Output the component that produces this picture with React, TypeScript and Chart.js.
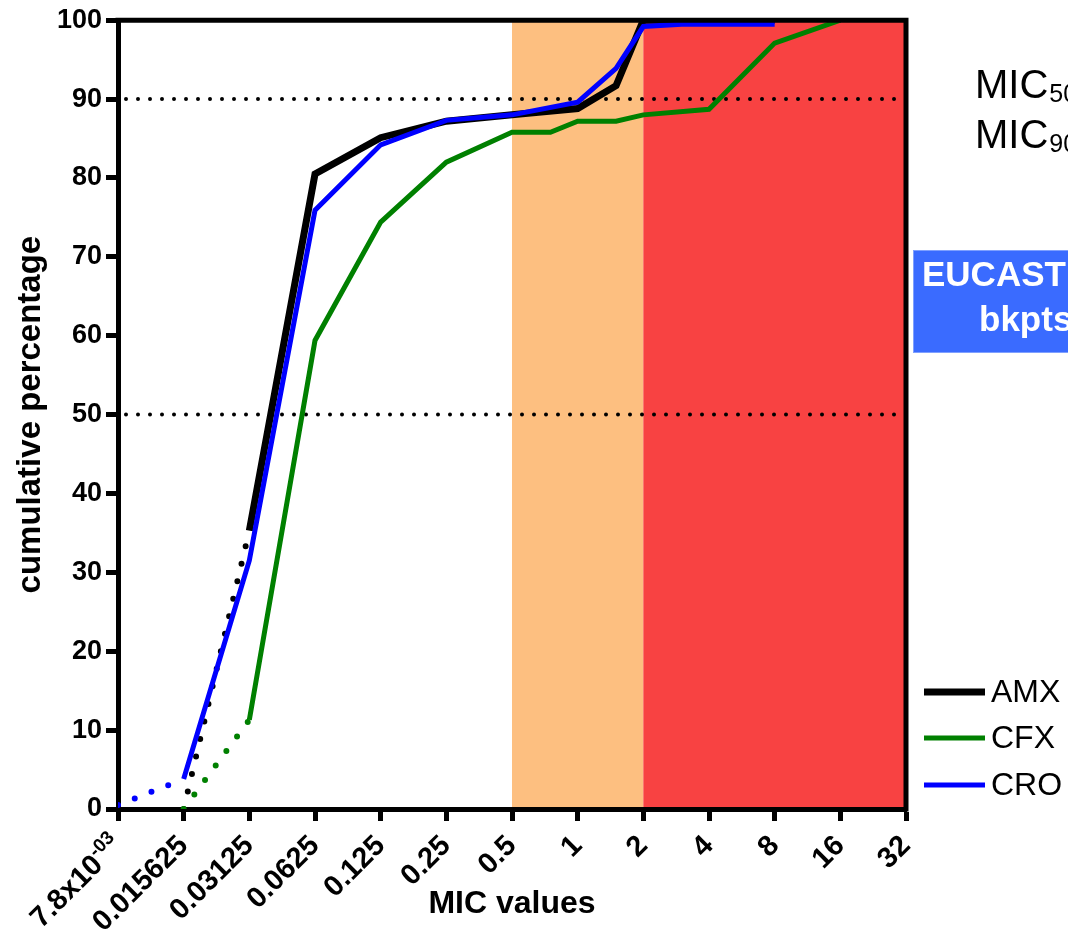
import React, { useEffect, useRef } from 'react';
import { Chart, registerables } from 'chart.js';

Chart.register(...registerables);

const FONT = '"Liberation Sans", Arial, Helvetica, sans-serif';

// X axis: MIC values (log2 spaced)
const xTickValues = [0.0078125, 0.015625, 0.03125, 0.0625, 0.125, 0.25, 0.5, 1, 2, 4, 8, 16, 32];
const xTickLabels = ['7.8x10', '0.015625', '0.03125', '0.0625', '0.125', '0.25', '0.5', '1', '2', '4', '8', '16', '32'];
const firstTickExponent = '-03';

// Series: cumulative percentage at each MIC
const amxMic = [0.015625, 0.03125, 0.0625, 0.125, 0.25, 0.5, 1, 1.5, 2, 4, 8];
const amxPct = [0, 35.3, 80.5, 85.1, 87.2, 88.0, 88.8, 91.7, 100, 100, 100];

const cfxMic = [0.015625, 0.03125, 0.0625, 0.125, 0.25, 0.5, 0.75, 1, 1.5, 2, 4, 8, 16];
const cfxPct = [0, 11.3, 59.4, 74.4, 82.0, 85.8, 85.8, 87.2, 87.2, 88.0, 88.7, 97.1, 100];

const croMic = [0.0078125, 0.015625, 0.03125, 0.0625, 0.125, 0.25, 0.5, 1, 1.5, 2, 3, 8];
const croPct = [0.5, 3.8, 31.5, 75.9, 84.2, 87.3, 88.0, 89.6, 93.9, 99.2, 99.5, 99.5];

const seriesNames = ['AMX', 'CFX', 'CRO'];
const seriesColors = ['#000000', '#008000', '#0000FF'];
const seriesWidths = [7, 5, 5];

const intermediateRange = [0.5, 2];
const resistantRange = [2, 32];
const referenceLevels = [50, 90];

const toPoints = (xs: number[], ys: number[]) => xs.map((x, i) => ({ x, y: ys[i] }));

const decorPlugin = {
  id: 'decor',
  beforeDraw(chart: any) {
    const { ctx, chartArea: a, scales } = chart;
    const x = scales.x;
    ctx.save();
    ctx.fillStyle = '#ffffff';
    ctx.fillRect(0, 0, chart.width, chart.height);
    const i0 = x.getPixelForValue(intermediateRange[0]);
    const i1 = x.getPixelForValue(intermediateRange[1]);
    const r0 = x.getPixelForValue(resistantRange[0]);
    const r1 = x.getPixelForValue(resistantRange[1]);
    ctx.fillStyle = '#FDBF80';
    ctx.fillRect(i0, a.top, i1 - i0, a.bottom - a.top);
    ctx.fillStyle = '#F84242';
    ctx.fillRect(r0, a.top, r1 - r0, a.bottom - a.top);
    ctx.restore();
  },
  beforeDatasetsDraw(chart: any) {
    const { ctx, chartArea: a, scales } = chart;
    const y = scales.y;
    ctx.save();
    ctx.strokeStyle = '#000';
    ctx.lineWidth = 4;
    ctx.lineCap = 'round';
    ctx.setLineDash([0, 12]);
    referenceLevels.forEach((lv) => {
      const py = y.getPixelForValue(lv);
      ctx.beginPath();
      ctx.moveTo(a.left + 8, py);
      ctx.lineTo(a.right - 2, py);
      ctx.stroke();
    });
    ctx.restore();
  },
  afterDraw(chart: any) {
    const { ctx, chartArea: a, scales } = chart;
    const x = scales.x;
    ctx.save();
    // top and right frame
    ctx.strokeStyle = '#000';
    ctx.lineWidth = 5;
    ctx.beginPath();
    ctx.moveTo(a.left - 2.5, a.top);
    ctx.lineTo(a.right + 2.5, a.top);
    ctx.moveTo(a.right, a.top);
    ctx.lineTo(a.right, a.bottom + 2.5);
    ctx.stroke();

    // first x tick label with superscript exponent
    try {
      const items = x.getLabelItems();
      const ref = items[1];
      const dx = x.getPixelForValue(xTickValues[1]) - x.getPixelForValue(xTickValues[0]);
      const [tx, ty] = ref.options.translation;
      ctx.save();
      ctx.translate(tx - dx, ty);
      ctx.rotate(ref.options.rotation);
      ctx.fillStyle = '#000';
      ctx.textAlign = 'right';
      ctx.textBaseline = 'middle';
      ctx.font = `bold 19px ${FONT}`;
      ctx.fillText(firstTickExponent, 0, ref.textOffset - 9);
      const ew = ctx.measureText(firstTickExponent).width;
      ctx.font = `bold 29px ${FONT}`;
      ctx.fillText(xTickLabels[0], -ew, ref.textOffset);
      ctx.restore();
    } catch (e) {
      /* ignore */
    }

    // MIC50 / MIC90
    ctx.fillStyle = '#000';
    ctx.textBaseline = 'alphabetic';
    ctx.textAlign = 'left';
    const mics = [['MIC', '50', 98], ['MIC', '90', 148]] as const;
    mics.forEach(([t, s, by]) => {
      ctx.font = `40px ${FONT}`;
      ctx.fillText(t, 975, by);
      const w = ctx.measureText(t).width;
      ctx.font = `25px ${FONT}`;
      ctx.fillText(s, 975 + w + 1, by + 4);
    });

    // EUCAST box
    ctx.fillStyle = '#3A6BFF';
    ctx.fillRect(913, 250, 200, 103);
    ctx.strokeStyle = '#7FA0FF';
    ctx.lineWidth = 1;
    ctx.strokeRect(913.5, 250.5, 200, 102);
    ctx.fillStyle = '#ffffff';
    ctx.font = `bold 35px ${FONT}`;
    ctx.fillText('EUCAST', 922, 286);
    ctx.fillText('bkpts', 979, 331);

    // legend
    const ly = [692, 738, 785];
    seriesNames.forEach((n, i) => {
      ctx.strokeStyle = seriesColors[i];
      ctx.lineWidth = seriesWidths[i];
      ctx.setLineDash([]);
      ctx.beginPath();
      ctx.moveTo(924, ly[i]);
      ctx.lineTo(985, ly[i]);
      ctx.stroke();
      ctx.fillStyle = '#000';
      ctx.font = `32px ${FONT}`;
      ctx.textBaseline = 'middle';
      ctx.fillText(n, 991, ly[i] + 1);
    });
    ctx.restore();
  },
};

const makeDataset = (i: number, xs: number[], ys: number[], order: number) => ({
  label: seriesNames[i],
  data: toPoints(xs, ys),
  borderColor: seriesColors[i],
  backgroundColor: seriesColors[i],
  borderWidth: seriesWidths[i],
  pointRadius: 0,
  pointHoverRadius: 0,
  tension: 0,
  order,
  borderJoinStyle: 'miter' as const,
  borderCapStyle: 'butt' as const,
  segment: {
    borderDash: (ctx: any) => (ctx.p0DataIndex === 0 ? [0, 18] : []),
    borderCapStyle: (ctx: any) => (ctx.p0DataIndex === 0 ? 'round' : 'butt'),
    borderWidth: (ctx: any) => (ctx.p0DataIndex === 0 ? 6 : seriesWidths[i]),
  },
});

export default function App() {
  const canvasRef = useRef<HTMLCanvasElement | null>(null);

  useEffect(() => {
    const canvas = canvasRef.current;
    if (!canvas) return;
    const chart = new Chart(canvas, {
      type: 'line',
      data: {
        datasets: [
          makeDataset(0, amxMic, amxPct, 2),
          makeDataset(1, cfxMic, cfxPct, 1),
          makeDataset(2, croMic, croPct, 0),
        ],
      },
      options: {
        animation: false,
        responsive: false,
        devicePixelRatio: 1,
        layout: { padding: { top: 20, right: 162, bottom: 0, left: 0 } },
        plugins: {
          legend: { display: false },
          tooltip: { enabled: false },
        },
        scales: {
          x: {
            type: 'logarithmic',
            min: 0.0078125,
            max: 32,
            afterBuildTicks: (s: any) => {
              s.ticks = xTickValues.map((v) => ({ value: v }));
            },
            afterFit: (s: any) => {
              s.height = 128;
            },
            grid: { drawOnChartArea: false, drawTicks: true, tickLength: 12, tickWidth: 5, tickColor: '#000' },
            border: { display: true, color: '#000', width: 5 },
            ticks: {
              autoSkip: false,
              minRotation: 45,
              maxRotation: 45,
              padding: 8,
              color: '#000',
              font: { family: FONT, size: 29, weight: 'bold' },
              callback: (_v: any, i: number) => (i === 0 ? '' : xTickLabels[i]),
            },
            title: {
              display: true,
              text: 'MIC values',
              color: '#000',
              font: { family: FONT, size: 32, weight: 'bold' },
              padding: { top: 0, bottom: 14 },
            },
          },
          y: {
            type: 'linear',
            min: 0,
            max: 100,
            afterFit: (s: any) => {
              s.width = 118;
            },
            grid: { drawOnChartArea: false, drawTicks: true, tickLength: 12, tickWidth: 5, tickColor: '#000' },
            border: { display: true, color: '#000', width: 5 },
            ticks: {
              stepSize: 10,
              padding: 4,
              color: '#000',
              font: { family: FONT, size: 27, weight: 'bold' },
            },
            title: {
              display: true,
              text: 'cumulative percentage',
              color: '#000',
              font: { family: FONT, size: 33, weight: 'bold' },
              padding: { top: 11, bottom: 0 },
            },
          },
        },
      },
      plugins: [decorPlugin],
    } as any);
    return () => chart.destroy();
  }, []);

  return (
    <div style={{ position: 'fixed', left: 0, top: 0, width: 1068, height: 937, background: '#fff' }}>
      <canvas ref={canvasRef} width={1068} height={937} style={{ display: 'block', width: 1068, height: 937 }} />
    </div>
  );
}
